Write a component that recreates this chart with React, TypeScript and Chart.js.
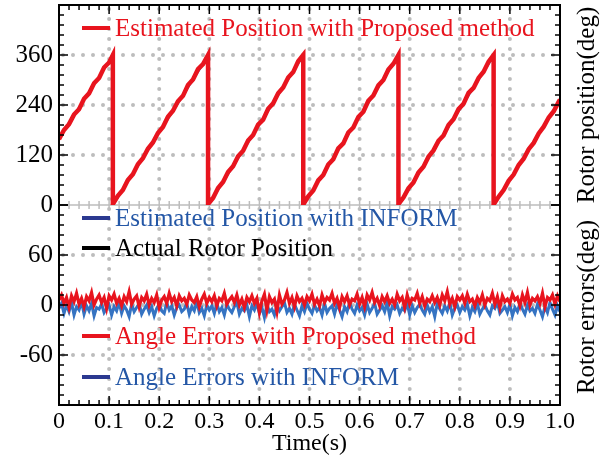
import React, { useEffect, useRef } from "react";
import { Chart, registerables } from "chart.js";

Chart.register(...registerables);

// ---------- data ----------
const actualTime = [0, 0.1075, 0.1075, 0.2975, 0.2975, 0.4875, 0.4875, 0.6775, 0.6775, 0.8675, 0.8675, 1.0];
const actualPosition = [160, 360, 0, 360, 0, 360, 0, 360, 0, 360, 0, 253];

const informTime = [0, 0.1085, 0.1085, 0.2985, 0.2985, 0.4885, 0.4885, 0.6785, 0.6785, 0.8685, 0.8685, 1.0];
const informPosition = [161, 360, 1, 359, 0, 360, 1, 360, 0, 359, 1, 251];

const proposedTime = [
  0, 0.01, 0.02, 0.03, 0.04, 0.05, 0.06, 0.07, 0.08, 0.09, 0.1, 0.1075, 0.1075,
  0.1175, 0.1275, 0.1375, 0.1475, 0.1575, 0.1675, 0.1775, 0.1875, 0.1975, 0.2075, 0.2175, 0.2275, 0.2375, 0.2475, 0.2575, 0.2675, 0.2775, 0.2875, 0.2975, 0.2975,
  0.3075, 0.3175, 0.3275, 0.3375, 0.3475, 0.3575, 0.3675, 0.3775, 0.3875, 0.3975, 0.4075, 0.4175, 0.4275, 0.4375, 0.4475, 0.4575, 0.4675, 0.4775, 0.4875, 0.4875,
  0.4975, 0.5075, 0.5175, 0.5275, 0.5375, 0.5475, 0.5575, 0.5675, 0.5775, 0.5875, 0.5975, 0.6075, 0.6175, 0.6275, 0.6375, 0.6475, 0.6575, 0.6675, 0.6775, 0.6775,
  0.6875, 0.6975, 0.7075, 0.7175, 0.7275, 0.7375, 0.7475, 0.7575, 0.7675, 0.7775, 0.7875, 0.7975, 0.8075, 0.8175, 0.8275, 0.8375, 0.8475, 0.8575, 0.8675, 0.8675,
  0.8775, 0.8875, 0.8975, 0.9075, 0.9175, 0.9275, 0.9375, 0.9475, 0.9575, 0.9675, 0.9775, 0.9875, 0.9975, 1.0,
];
const proposedPosition = [
  158, 180, 194, 217, 230, 255, 268, 292, 305, 330, 342, 360, 2,
  22, 36, 60, 74, 98, 112, 135, 150, 173, 187, 212, 226, 249, 262, 288, 301, 326, 338, 360, 2,
  17, 41, 55, 79, 93, 117, 130, 155, 168, 193, 205, 231, 244, 268, 282, 306, 319, 345, 360, 1,
  21, 35, 59, 72, 97, 110, 136, 148, 174, 186, 211, 224, 250, 263, 287, 300, 325, 339, 360, 2,
  18, 40, 54, 78, 92, 116, 131, 154, 167, 192, 206, 230, 243, 269, 281, 305, 320, 344, 360, 1,
  20, 36, 58, 73, 96, 111, 134, 149, 172, 188, 210, 225, 248, 253,
];

const errorSampleStep = 0.005;
const errorProposed = [
  6, 12, 2, 9, -3, 11, 4, 14, 1, 8,
  -2, 10, 5, 15, 0, 7, 12, 3, 9, -4,
  11, 6, 13, 2, 8, -1, 10, 4, 16, 1,
  7, 11, -2, 9, 5, 13, 0, 8, 3, 12,
  -3, 6, 10, 2, 14, 4, 9, -1, 11, 5,
  8, 1, 12, 6, 3, 10, -2, 7, 13, 2,
  9, 4, 11, -1, 8, 5, 14, 1, 6, 10,
  3, 12, 0, 7, -3, 9, 4, 11, 2, 8,
  -9, 5, 13, -6, 10, 3, 7, -8, 12, 1,
  6, 15, 2, 9, -2, 11, 4, 8, 0, 10,
  5, 13, 1, 7, -1, 12, 3, 9, 6, 14,
  2, 8, -3, 10, 4, 11, 0, 7, 5, 13,
  1, 9, -2, 12, 6, 15, 3, 8, -1, 10,
  4, 11, 2, 7, 0, 13, 5, 9, -3, 12,
  1, 8, 6, 14, 2, 10, -1, 7, 4, 11,
  3, 9, 0, 12, 5, 16, 1, 8, -2, 10,
  6, 11, 2, 13, 4, 7, -1, 9, 3, 12,
  0, 8, 5, 14, 1, 10, -3, 11, 4, 7,
  2, 13, 6, 9, -1, 12, 3, 15, 0, 8,
  5, 10, 2, 14, -2, 9, 6, 12, 1, 11,
  4,
];
const errorInform = [
  -4, 2, -10, 0, -8, 3, -12, -2, -6, 4,
  -11, -1, -7, 2, -13, -3, -5, 1, -9, -4,
  0, -12, -2, -7, 3, -10, -1, -6, -14, 1,
  -8, -3, 2, -11, -5, 0, -9, -2, -13, -4,
  1, -7, -10, 3, -6, -1, -12, -3, 0, -8,
  -5, 2, -11, -2, -7, 4, -9, -4, -13, 0,
  -6, -1, -10, 2, -8, -3, -12, 1, -5, -9,
  -2, 3, -11, -4, -7, 0, -14, -1, -6, 2,
  -10, -3, -15, 1, -8, -5, -12, 0, -7, -2,
  3, -9, -4, -11, 1, -6, -13, -1, -8, 2,
  -5, -10, 0, -7, -3, -12, 2, -9, -4, -1,
  -11, 1, -6, -14, -2, -8, 3, -5, -10, 0,
  -7, -3, -12, 1, -9, -4, 2, -11, -6, -1,
  -8, 3, -13, -2, -5, 0, -10, -4, -7, 2,
  -12, -1, -9, -3, 1, -6, -11, 0, -8, -2,
  -14, 2, -5, -10, -1, -7, 3, -12, -4, 0,
  -9, -2, -6, 1, -13, -3, -8, 2, -11, -5,
  0, -7, -12, -1, -4, 3, -10, -6, -2, -9,
  1, -13, -3, -8, 2, -5, -11, 0, -7, -4,
  -10, 1, -6, -14, -2, -9, 3, -5, -12, -1,
  -8,
];

const xTickValues = [0, 0.1, 0.2, 0.3, 0.4, 0.5, 0.6, 0.7, 0.8, 0.9, 1.0];
const positionTicks = [0, 120, 240, 360];
const errorTicks = [-60, 0, 60];

const legendItems = [
  { label: "Estimated Position with Proposed method", color: "#e8141e", text: "#e8141e", y: 28 },
  { label: "Estimated Position with INFORM", color: "#2b3990", text: "#2457a6", y: 218 },
  { label: "Actual Rotor Position", color: "#000000", text: "#000000", y: 248 },
  { label: "Angle Errors with Proposed method", color: "#e8141e", text: "#e8141e", y: 336 },
  { label: "Angle Errors with INFORM", color: "#2b3990", text: "#2457a6", y: 377 },
];

const RED = "#e8141e";
const BLUE = "#3573c2";
const FONT = "'Liberation Serif', 'Times New Roman', serif";

const pairs = (xs: number[], ys: number[]) => ys.map((y, i) => ({ x: xs[i], y }));
const sampled = (ys: number[]) => ys.map((y, i) => ({ x: +(i * errorSampleStep).toFixed(4), y }));

const zeroPad = (s: any) => {
  s.paddingTop = 0;
  s.paddingBottom = 0;
  s.paddingLeft = 0;
  s.paddingRight = 0;
};

const decorPlugin = {
  id: "decor",
  beforeDatasetsDraw(chart: any) {
    const { ctx, chartArea: a, scales } = chart;
    const xs = scales.x, yp = scales.yPos, ye = scales.yErr;
    ctx.save();
    ctx.strokeStyle = "#bdbdbd";
    ctx.lineWidth = 4;
    ctx.lineCap = "round";
    ctx.setLineDash([0, 10]);
    for (const v of xTickValues.slice(1, -1)) {
      const px = xs.getPixelForValue(v);
      ctx.beginPath();
      ctx.moveTo(px, a.top + 4);
      ctx.lineTo(px, a.bottom);
      ctx.stroke();
    }
    const hl = (py: number) => {
      ctx.beginPath();
      ctx.moveTo(a.left + 4, py);
      ctx.lineTo(a.right, py);
      ctx.stroke();
    };
    for (const v of positionTicks.slice(1)) hl(yp.getPixelForValue(v));
    for (const v of errorTicks) hl(ye.getPixelForValue(v));
    // panel separator
    ctx.setLineDash([]);
    ctx.lineCap = "butt";
    ctx.lineWidth = 1.5;
    const sep = yp.getPixelForValue(0);
    ctx.beginPath();
    ctx.moveTo(a.left, sep);
    ctx.lineTo(a.right, sep);
    ctx.stroke();
    for (let i = 0; i <= 50; i++) {
      const px = xs.getPixelForValue(i * 0.02);
      ctx.beginPath();
      ctx.moveTo(px, sep - 4);
      ctx.lineTo(px, sep + 4);
      ctx.stroke();
    }
    ctx.restore();
  },
  afterDraw(chart: any) {
    const { ctx, chartArea: a, scales } = chart;
    const xs = scales.x, yp = scales.yPos, ye = scales.yErr;
    ctx.save();
    ctx.strokeStyle = "#000";
    ctx.lineWidth = 1.5;
    const tick = (x1: number, y1: number, x2: number, y2: number) => {
      ctx.beginPath();
      ctx.moveTo(x1, y1);
      ctx.lineTo(x2, y2);
      ctx.stroke();
    };
    for (let i = 0; i <= 50; i++) {
      const px = xs.getPixelForValue(i * 0.02);
      const len = i % 5 === 0 ? 9 : 5;
      tick(px, a.bottom, px, a.bottom - len);
      tick(px, a.top, px, a.top + len);
    }
    for (let i = 0; i <= 20; i++) {
      const py = yp.getPixelForValue(i * 24);
      const len = i % 5 === 0 ? 9 : 5;
      tick(a.left, py, a.left + len, py);
      tick(a.right, py, a.right - len, py);
    }
    for (let i = 0; i <= 20; i++) {
      const py = ye.getPixelForValue(-120 + i * 12);
      const len = i % 5 === 0 ? 9 : 5;
      tick(a.left, py, a.left + len, py);
      tick(a.right, py, a.right - len, py);
    }
    ctx.lineWidth = 2;
    ctx.strokeRect(a.left, a.top, a.right - a.left, a.bottom - a.top);

    // legend annotations
    ctx.font = `25px ${FONT}`;
    ctx.textBaseline = "middle";
    ctx.textAlign = "left";
    for (const it of legendItems) {
      ctx.strokeStyle = it.color;
      ctx.lineWidth = 4;
      ctx.beginPath();
      ctx.moveTo(a.left + 23, it.y);
      ctx.lineTo(a.left + 51, it.y);
      ctx.stroke();
      ctx.fillStyle = it.text;
      ctx.fillText(it.label, a.left + 56, it.y + 1);
    }

    // right-side titles
    ctx.fillStyle = "#000";
    ctx.textAlign = "center";
    ctx.font = `25px ${FONT}`;
    const rt = (txt: string, cy: number) => {
      ctx.save();
      ctx.translate(a.right + 27, cy);
      ctx.rotate(-Math.PI / 2);
      ctx.fillText(txt, 0, 0);
      ctx.restore();
    };
    rt("Rotor position(deg)", (yp.getPixelForValue(0) + a.top) / 2);
    rt("Rotor errors(deg)", ye.getPixelForValue(0) + 2);
    ctx.restore();
  },
};

export default function App() {
  const ref = useRef<HTMLCanvasElement | null>(null);

  useEffect(() => {
    document.body.style.margin = "0";
    const canvas = ref.current!;
    const chart = new Chart(canvas, {
      type: "line",
      data: {
        datasets: [
          {
            label: "Estimated Position with Proposed method",
            data: pairs(proposedTime, proposedPosition),
            yAxisID: "yPos",
            borderColor: RED,
            borderWidth: 4.5,
            pointRadius: 0,
            order: 1,
          },
          {
            label: "Actual Rotor Position",
            data: pairs(actualTime, actualPosition),
            yAxisID: "yPos",
            borderColor: "#000",
            borderWidth: 1.5,
            pointRadius: 0,
            order: 2,
          },
          {
            label: "Estimated Position with INFORM",
            data: pairs(informTime, informPosition),
            yAxisID: "yPos",
            borderColor: BLUE,
            borderWidth: 2,
            pointRadius: 0,
            order: 3,
          },
          {
            label: "Angle Errors with Proposed method",
            data: sampled(errorProposed),
            yAxisID: "yErr",
            borderColor: RED,
            borderWidth: 3.2,
            pointRadius: 0,
            order: 4,
          },
          {
            label: "Angle Errors with INFORM",
            data: sampled(errorInform),
            yAxisID: "yErr",
            borderColor: BLUE,
            borderWidth: 3,
            pointRadius: 0,
            order: 5,
          },
        ],
      },
      options: {
        responsive: false,
        animation: false,
        devicePixelRatio: 1,
        parsing: false,
        layout: { padding: { left: 0, top: 5, right: 46, bottom: 0 } },
        plugins: { legend: { display: false }, tooltip: { enabled: false } },
        elements: { line: { tension: 0, borderJoinStyle: "miter" } },
        scales: {
          x: {
            type: "linear",
            min: 0,
            max: 1,
            afterBuildTicks: (s: any) => {
              s.ticks = xTickValues.map((v) => ({ value: v }));
            },
            ticks: {
              color: "#000",
              font: { family: FONT, size: 24 },
              padding: 2,
              maxRotation: 0,
              callback: (v: any) => (v === 0 ? "0" : Number(v).toFixed(1)),
            },
            grid: { display: false, drawTicks: false },
            border: { display: false },
            title: {
              display: true,
              text: "Time(s)",
              color: "#000",
              font: { family: FONT, size: 24 },
              padding: { top: 0, bottom: 3 },
            },
            afterFit: (s: any) => {
              s.height = 56;
              zeroPad(s);
            },
          },
          yErr: {
            type: "linear",
            position: "left",
            stack: "panels",
            stackWeight: 1,
            min: -120,
            max: 120,
            afterBuildTicks: (s: any) => {
              s.ticks = errorTicks.map((v) => ({ value: v }));
            },
            ticks: { color: "#000", font: { family: FONT, size: 25 }, padding: 6 },
            grid: { display: false, drawTicks: false },
            border: { display: false },
            afterFit: (s: any) => {
              s.width = 59;
              zeroPad(s);
            },
          },
          yPos: {
            type: "linear",
            position: "left",
            stack: "panels",
            stackWeight: 1,
            min: 0,
            max: 480,
            afterBuildTicks: (s: any) => {
              s.ticks = positionTicks.map((v) => ({ value: v }));
            },
            ticks: { color: "#000", font: { family: FONT, size: 25 }, padding: 6 },
            grid: { display: false, drawTicks: false },
            border: { display: false },
            afterFit: (s: any) => {
              s.width = 59;
              zeroPad(s);
            },
          },
        },
      },
      plugins: [decorPlugin],
    });
    return () => chart.destroy();
  }, []);

  return (
    <div style={{ width: 606, height: 461, position: "relative" }}>
      <canvas ref={ref} width={606} height={461} />
    </div>
  );
}
